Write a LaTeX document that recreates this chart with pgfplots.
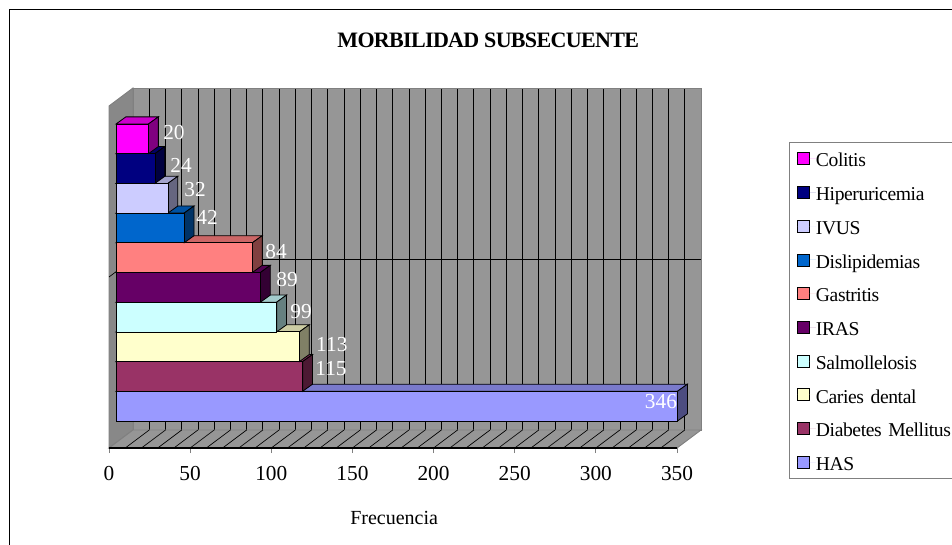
\documentclass[border=0pt]{standalone}
\usepackage{fontspec}
\setmainfont{Liberation Serif}[LetterSpace=-2]
\newfontfamily\numfont{Liberation Serif}
\newfontfamily\titlefont{Liberation Serif}[LetterSpace=-3]
\usepackage{pgfplots}
\pgfplotsset{compat=1.18}
\definecolor{wall}{RGB}{150,150,150}
\definecolor{sidewall}{RGB}{136,136,136}
\definecolor{edge}{RGB}{128,128,128}
\definecolor{colitis}{RGB}{255,0,255}
\definecolor{hiper}{RGB}{0,0,128}
\definecolor{ivus}{RGB}{204,204,255}
\definecolor{dislip}{RGB}{0,102,204}
\definecolor{gastritis}{RGB}{255,128,128}
\definecolor{iras}{RGB}{102,0,102}
\definecolor{salmo}{RGB}{204,255,255}
\definecolor{caries}{RGB}{255,255,204}
\definecolor{diabetes}{RGB}{153,51,102}
\definecolor{has}{RGB}{153,153,255}

% one bar: value, row, colour; the depth is 6.1 units across and 0.24 rows up
\newcommand{\barthree}[3]{%
  \pgfmathsetmacro\xb{#1+6.1}%
  \pgfmathsetmacro\yl{#2-0.5}%
  \pgfmathsetmacro\yh{#2+0.5}%
  \pgfmathsetmacro\ylb{#2-0.26}%
  \pgfmathsetmacro\yhb{#2+0.74}%
  \edef\tmp{\noexpand\addplot[fill=#3!80!black,draw=black,line width=0.6pt]
      coordinates {(0,\yh)(#1,\yh)(\xb,\yhb)(6.1,\yhb)} --cycle;
    \noexpand\addplot[fill=#3!50!black,draw=black,line width=0.6pt]
      coordinates {(#1,\yl)(\xb,\ylb)(\xb,\yhb)(#1,\yh)} --cycle;}%
  \tmp
  \addplot[xbar,bar shift=0pt,bar width=22.28pt,fill=#3,draw=black,line width=0.6pt]
    coordinates {(#1,#2)};
}

\pgfplotstableread{
x     y     v
35.7  10.23 20
40.1  9.12  24
48.7  8.28  32
56.1  7.34  42
98.6  6.22  84
105.4 5.25  89
114   4.20  99
133   3.09  113
132.5 2.25  115
335.8 1.17  346
}\labeltable

\begin{document}
\begin{tikzpicture}
\useasboundingbox (0,0) rectangle (714pt,-408.75pt);
\draw[black,line width=0.6pt] (6.75pt,-408.75pt) -- (6.75pt,-6.75pt) -- (714pt,-6.75pt);

% back wall with its grid
\begin{axis}[
    at={(99.75pt,-322.5pt)}, anchor=south west,
    scale only axis, width=426pt, height=256.5pt,
    xmin=0, xmax=350, ymin=0, ymax=342,
    xtick={0,10,...,350}, ytick={171},
    xticklabels={}, yticklabels={},
    tick style={draw=none},
    grid=major, grid style={black,line width=0.5pt},
    axis line style={edge,line width=0.7pt},
    axis background/.style={fill=wall},
]
\end{axis}

% side wall, floor, x axis
\begin{axis}[
    at={(81.75pt,-336pt)}, anchor=south west,
    scale only axis, width=426pt, height=256.5pt,
    xmin=0, xmax=350, ymin=0, ymax=342,
    clip=false,
    axis x line*=bottom, axis y line=none,
    axis line style={black,line width=0.7pt,-},
    xtick={0,50,...,350},
    tick align=outside, major tick length=3.75pt,
    tick style={edge,line width=0.6pt},
    /pgf/number format/assume math mode=true,
    xticklabel style={font=\numfont\fontsize{16}{16}\selectfont,yshift=-6.5pt},
    xlabel={Frecuencia},
    xlabel style={at={(axis description cs:0.502,-0.205)},anchor=center,font=\numfont\fontsize{15}{15}\selectfont},
    title={\textbf{MORBILIDAD SUBSECUENTE}},
    title style={at={(axis description cs:0.667,1.193)},anchor=center,yshift=-6pt,font=\titlefont\fontsize{16.5}{16.5}\selectfont},
]
\addplot[fill=sidewall,draw=edge,line width=0.7pt] coordinates {(0,0)(14.8,18)(14.8,360)(0,342)} --cycle;
\addplot[fill=wall,draw=edge,line width=0.7pt] coordinates {(0,0)(14.8,18)(364.8,18)(350,0)} --cycle;
\addplot[black,line width=0.5pt] coordinates {(0,171)(14.8,189)};
\pgfplotsforeachungrouped \k in {10,20,...,340}{%
  \pgfmathsetmacro\kb{\k+14.8}%
  \edef\tmp{\noexpand\addplot[black,line width=0.5pt] coordinates {(\k,0)(\kb,18)};}%
  \tmp
}
\addplot[black,line width=0.8pt] coordinates {(0,0)(350,0)};
\end{axis}

% bars, labels, legend
\begin{axis}[
    at={(87pt,-315.75pt)}, anchor=south west,
    scale only axis, width=426pt, height=222.75pt,
    xmin=0, xmax=350, ymin=0.5, ymax=10.5,
    clip=false, hide axis,
    legend style={
        at={(axis description cs:1.185,0.939)}, anchor=north west,
        draw=edge, line width=0.7pt, fill=white,
        font=\fontsize{14.7}{14.7}\selectfont,
        row sep=13.05pt, inner xsep=5.5pt, inner ysep=6pt,
        cells={anchor=west},
        nodes={text width=114pt,inner sep=0pt,text height=12.25pt,text depth=0pt},
    },
    legend image code/.code={
        \draw[#1,line width=0.6pt] (0pt,-4.5pt) rectangle (9pt,4.5pt);
        \path[draw=none] (0pt,0pt) -- (14pt,0pt);
    },
]
\addlegendimage{fill=colitis}
\addlegendimage{fill=hiper}
\addlegendimage{fill=ivus}
\addlegendimage{fill=dislip}
\addlegendimage{fill=gastritis}
\addlegendimage{fill=iras}
\addlegendimage{fill=salmo}
\addlegendimage{fill=caries}
\addlegendimage{fill=diabetes}
\addlegendimage{fill=has}
\legend{Colitis,Hiperuricemia,IVUS,Dislipidemias,Gastritis,IRAS,Salmollelosis,Caries dental,Diabetes Mellitus,HAS}
\barthree{346}{1}{has}
\barthree{115}{2}{diabetes}
\barthree{113}{3}{caries}
\barthree{99}{4}{salmo}
\barthree{89}{5}{iras}
\barthree{84}{6}{gastritis}
\barthree{42}{7}{dislip}
\barthree{32}{8}{ivus}
\barthree{24}{9}{hiper}
\barthree{20}{10}{colitis}
\addplot[draw=none,forget plot,nodes near coords,point meta=explicit symbolic,
    nodes near coords style={anchor=center,text=white,inner sep=0pt,font=\numfont\fontsize{16}{16}\selectfont}]
    table[x=x,y=y,meta=v] {\labeltable};
\end{axis}
\end{tikzpicture}
\end{document}
